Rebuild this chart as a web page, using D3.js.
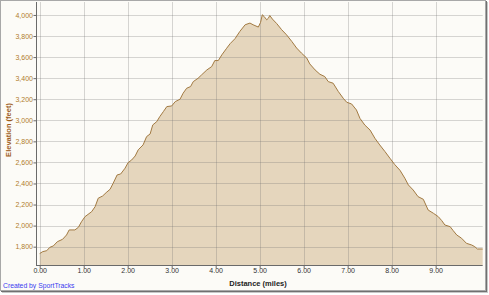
<!DOCTYPE html>
<html>
<head>
<meta charset="utf-8">
<script src="https://cdn.jsdelivr.net/npm/d3@7"></script>
<style>
  body { margin: 0; background: #fff; }
  svg { display: block; font-family: "Liberation Sans", Arial, sans-serif; }
</style>
</head>
<body>
<svg id="chart"></svg>
<script>
// elevation profile, distance in miles / elevation in feet
const distance = [0.00, 0.07, 0.16, 0.23, 0.31, 0.40, 0.52, 0.61, 0.67, 0.80, 0.88, 0.95, 1.03, 1.18, 1.26, 1.33, 1.43, 1.51, 1.60, 1.67,
  1.76, 1.84, 1.94, 2.01, 2.09, 2.17, 2.24, 2.35, 2.43, 2.51, 2.57, 2.66, 2.73, 2.81, 2.89, 3.00, 3.08, 3.19, 3.26, 3.34,
  3.43, 3.49, 3.60, 3.68, 3.80, 3.91, 3.98, 4.06, 4.14, 4.25, 4.33, 4.44, 4.55, 4.67, 4.78, 4.85, 4.97, 5.02, 5.06, 5.10,
  5.16, 5.20, 5.23, 5.29, 5.39, 5.50, 5.61, 5.73, 5.84, 5.95, 6.07, 6.14, 6.26, 6.37, 6.48, 6.56, 6.67, 6.79, 6.90, 6.98,
  7.09, 7.20, 7.28, 7.39, 7.51, 7.62, 7.73, 7.85, 7.96, 8.07, 8.19, 8.30, 8.38, 8.49, 8.60, 8.72, 8.83, 8.95, 9.06, 9.14,
  9.21, 9.33, 9.40, 9.48, 9.59, 9.70, 9.82, 9.89, 9.95, 10.07];
const elevation = [1735, 1753, 1762, 1794, 1807, 1847, 1870, 1911, 1959, 1959, 1984, 2037, 2085, 2132, 2180, 2260, 2281, 2313, 2345, 2402,
  2481, 2490, 2545, 2598, 2623, 2661, 2720, 2766, 2845, 2870, 2956, 2987, 3035, 3082, 3130, 3136, 3177, 3200, 3257, 3304,
  3320, 3367, 3399, 3431, 3478, 3510, 3567, 3567, 3621, 3684, 3728, 3775, 3844, 3907, 3923, 3907, 3885, 3929, 4002, 3986,
  3954, 3970, 3995, 3961, 3917, 3860, 3812, 3749, 3686, 3638, 3591, 3535, 3478, 3437, 3415, 3367, 3352, 3272, 3209, 3171,
  3155, 3098, 3018, 2955, 2907, 2829, 2766, 2702, 2640, 2580, 2525, 2450, 2386, 2338, 2275, 2250, 2148, 2117, 2085, 2047,
  2006, 1990, 1952, 1911, 1880, 1832, 1816, 1800, 1778, 1778];
const xTicks = [0, 1, 2, 3, 4, 5, 6, 7, 8, 9];
const yTicks = [1800, 2000, 2200, 2400, 2600, 2800, 3000, 3200, 3400, 3600, 3800, 4000];

const width = 489, height = 295;
const plot = { left: 36, right: 482.7, top: 2, bottom: 265 };

const data = distance.map((d, i) => ({ d: d, e: elevation[i] }));

const x = d3.scaleLinear().domain([0, 10.07]).range([39.7, plot.right]);
const y = d3.scaleLinear().domain([1626, 4123]).range([plot.bottom, plot.top]);

const svg = d3.select("#chart")
  .attr("width", width)
  .attr("height", height);

// frame with drop shadow
svg.append("rect").attr("x", 2).attr("y", 2).attr("width", 486).attr("height", 291).attr("fill", "#c8c8c8");
svg.append("rect").attr("x", 1).attr("y", 1).attr("width", 486).attr("height", 291).attr("fill", "#707070");
svg.append("rect").attr("x", 0).attr("y", 0).attr("width", 485).attr("height", 290)
  .attr("fill", "#fcfbf7").attr("stroke", "#a8a8a8").attr("stroke-width", 1)
  .attr("transform", "translate(0.5,0.5)");

// plot background
svg.append("rect")
  .attr("x", plot.left).attr("y", plot.top)
  .attr("width", plot.right - plot.left).attr("height", plot.bottom - plot.top)
  .attr("fill", "#fcfbf7");

// filled area
svg.append("path")
  .datum(data)
  .attr("fill", "#e5d6bd")
  .attr("d", d3.area().x(p => x(p.d)).y0(plot.bottom).y1(p => y(p.e)));

// grid
const grid = svg.append("g").attr("stroke", "rgba(110,110,110,0.28)").attr("stroke-width", 1);
grid.selectAll("line.h").data(yTicks).join("line")
  .attr("x1", plot.left).attr("x2", plot.right)
  .attr("y1", d => Math.round(y(d)) + 0.5).attr("y2", d => Math.round(y(d)) + 0.5);
grid.selectAll("line.v").data(xTicks).join("line")
  .attr("y1", plot.top).attr("y2", plot.bottom)
  .attr("x1", d => Math.round(x(d)) + 0.5).attr("x2", d => Math.round(x(d)) + 0.5);

// profile line
svg.append("path")
  .datum(data)
  .attr("fill", "none")
  .attr("stroke", "#a27a42")
  .attr("stroke-width", 1)
  .attr("d", d3.line().x(p => x(p.d)).y(p => y(p.e)));

// axes
const xAxis = svg.append("g")
  .attr("transform", `translate(0,${plot.bottom + 0.5})`)
  .call(d3.axisBottom(x).tickValues(xTicks).tickFormat(d3.format(".2f")).tickSize(3).tickSizeOuter(0));
xAxis.select(".domain").attr("d", `M${plot.left},0H${plot.right}`).attr("stroke", "#6a6a6a");
xAxis.selectAll(".tick line").attr("stroke", "#6a6a6a");
xAxis.selectAll(".tick text").attr("fill", "#333").style("font-size", "7px").attr("dy", "0.55em").attr("y", 4);

const yAxis = svg.append("g")
  .attr("transform", `translate(${plot.left + 0.5},0)`)
  .call(d3.axisLeft(y).tickValues(yTicks).tickFormat(d3.format(",")).tickSize(3).tickSizeOuter(0));
yAxis.select(".domain").attr("d", `M0,${plot.top}V${plot.bottom}`).attr("stroke", "#6a6a6a");
yAxis.selectAll(".tick line").attr("stroke", "#6a6a6a");
yAxis.selectAll(".tick text").attr("fill", "#b07c2c").style("font-size", "7px").attr("x", -3.5);

// titles
svg.append("text")
  .attr("x", 258).attr("y", 285.5)
  .attr("text-anchor", "middle")
  .style("font-size", "7.5px").style("font-weight", "bold")
  .attr("fill", "#222")
  .text("Distance (miles)");

svg.append("text")
  .attr("transform", "translate(10.5,130) rotate(-90)")
  .attr("text-anchor", "middle")
  .style("font-size", "7.5px").style("font-weight", "bold")
  .attr("fill", "#9c5c18")
  .text("Elevation (feet)");

svg.append("text")
  .attr("x", 3).attr("y", 288)
  .style("font-size", "6.8px")
  .attr("fill", "#3b3bf0")
  .text("Created by SportTracks");
</script>
</body>
</html>
